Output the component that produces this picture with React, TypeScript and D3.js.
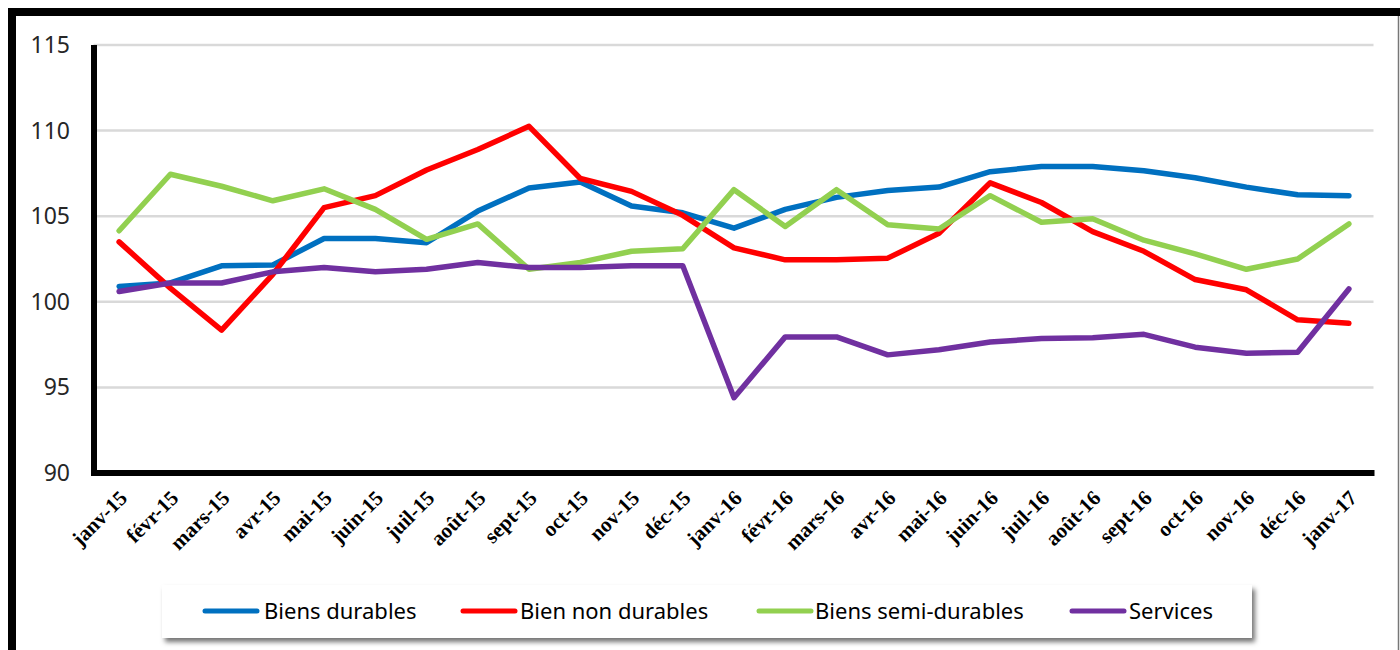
import React from "react";
import * as d3 from "d3";

const months = [
  "janv-15", "févr-15", "mars-15", "avr-15", "mai-15", "juin-15", "juil-15", "août-15",
  "sept-15", "oct-15", "nov-15", "déc-15", "janv-16", "févr-16", "mars-16", "avr-16",
  "mai-16", "juin-16", "juil-16", "août-16", "sept-16", "oct-16", "nov-16", "déc-16", "janv-17",
];

const biensDurables = [
  100.9, 101.1, 102.1, 102.15, 103.7, 103.7, 103.45, 105.3, 106.65, 107.0, 105.6, 105.2,
  104.3, 105.4, 106.1, 106.5, 106.7, 107.6, 107.9, 107.9, 107.65, 107.25, 106.7, 106.25, 106.2,
];
const bienNonDurables = [
  103.5, 100.8, 98.35, 101.6, 105.5, 106.2, 107.7, 108.9, 110.25, 107.2, 106.45, 105.05,
  103.15, 102.45, 102.45, 102.55, 104.0, 106.95, 105.8, 104.1, 102.95, 101.3, 100.7, 98.95, 98.75,
];
const biensSemiDurables = [
  104.15, 107.45, 106.75, 105.9, 106.6, 105.4, 103.65, 104.55, 101.9, 102.3, 102.95, 103.1,
  106.55, 104.4, 106.55, 104.5, 104.25, 106.2, 104.65, 104.85, 103.6, 102.8, 101.9, 102.5, 104.55,
];
const services = [
  100.6, 101.1, 101.1, 101.75, 102.0, 101.75, 101.9, 102.3, 102.0, 102.0, 102.1, 102.1,
  94.4, 97.95, 97.95, 96.9, 97.2, 97.65, 97.85, 97.9, 98.1, 97.35, 97.0, 97.05, 100.75,
];

const seriesNames = ["Biens durables", "Bien non durables", "Biens semi-durables", "Services"];
const seriesColors = ["#0070C0", "#FF0000", "#92D050", "#7030A0"];
const seriesValues = [biensDurables, bienNonDurables, biensSemiDurables, services];

const yTicks = [90, 95, 100, 105, 110, 115];

export default function App() {
  const W = 1400;
  const H = 650;
  const plotLeft = 93.5;
  const plotRight = 1374.5;
  const plotTop = 45;
  const plotBottom = 473;

  const x = d3.scaleBand<string>().domain(months).range([plotLeft, plotRight]);
  const xc = (m: string) => (x(m) as number) + x.bandwidth() / 2;
  const y = d3.scaleLinear().domain([90, 115]).range([plotBottom, plotTop]);

  const line = d3
    .line<number>()
    .x((_, i) => xc(months[i]))
    .y((v) => y(v));

  const legendItems = [
    { lineX: 205, textX: 264 },
    { lineX: 463, textX: 520 },
    { lineX: 759, textX: 815 },
    { lineX: 1072, textX: 1129 },
  ];
  const legendY = 611;

  return (
    <svg
      width={W}
      height={H}
      style={{ position: "absolute", left: 0, top: 0, background: "#fff" }}
    >
      <defs>
        <filter id="shadow" x="-5%" y="-30%" width="110%" height="170%">
          <feDropShadow dx="3" dy="4" stdDeviation="2.5" floodColor="#000" floodOpacity="0.55" />
        </filter>
      </defs>
      <rect x={0} y={0} width={W} height={H} fill="#fff" />
      {/* outer frame */}
      <line x1={12} y1={8} x2={12} y2={H} stroke="#000" strokeWidth={8} />
      <line x1={8} y1={12} x2={W} y2={12} stroke="#000" strokeWidth={8} />
      <line x1={1398.5} y1={16} x2={1398.5} y2={H} stroke="#777" strokeWidth={1.5} />

      {/* gridlines */}
      {yTicks.slice(1).map((t) => (
        <line
          key={t}
          x1={plotLeft}
          x2={plotRight - 1}
          y1={y(t)}
          y2={y(t)}
          stroke="#d9d9d9"
          strokeWidth={2.5}
        />
      ))}

      {/* y tick labels */}
      {yTicks.map((t) => (
        <text
          key={t}
          x={70}
          y={y(t)}
          dy="0.35em"
          textAnchor="end"
          fontFamily="'Noto Sans', 'Open Sans', sans-serif"
          fontSize={23}
          fill="#262626"
        >
          {t}
        </text>
      ))}

      {/* series */}
      {seriesValues.map((vals, si) => (
        <path
          key={si}
          d={line(vals) as string}
          fill="none"
          stroke={seriesColors[si]}
          strokeWidth={5.5}
          strokeLinejoin="round"
          strokeLinecap="round"
        />
      ))}

      {/* axes */}
      <line x1={94} y1={plotTop} x2={94} y2={plotBottom + 3} stroke="#000" strokeWidth={6} />
      <line x1={91} y1={plotBottom} x2={plotRight} y2={plotBottom} stroke="#000" strokeWidth={6} />

      {/* x labels */}
      {months.map((m) => (
        <text
          key={m}
          transform={`translate(${xc(m) + 4},${plotBottom + 21}) rotate(-45)`}
          textAnchor="end"
          dy="0.35em"
          fontFamily="'Liberation Serif', 'Times New Roman', serif"
          fontWeight="bold"
          fontSize={21}
          fill="#000"
        >
          {m}
        </text>
      ))}

      {/* legend */}
      <rect x={162} y={585} width={1090} height={53} fill="#fff" filter="url(#shadow)" />
      {seriesNames.map((name, i) => (
        <g key={name}>
          <line
            x1={legendItems[i].lineX}
            x2={legendItems[i].lineX + 52}
            y1={legendY}
            y2={legendY}
            stroke={seriesColors[i]}
            strokeWidth={5}
            strokeLinecap="round"
          />
          <text
            x={legendItems[i].textX}
            y={legendY}
            dy="0.35em"
            fontFamily="'Noto Sans', 'Open Sans', sans-serif"
            fontSize={22}
            fill="#000"
          >
            {name}
          </text>
        </g>
      ))}
    </svg>
  );
}
